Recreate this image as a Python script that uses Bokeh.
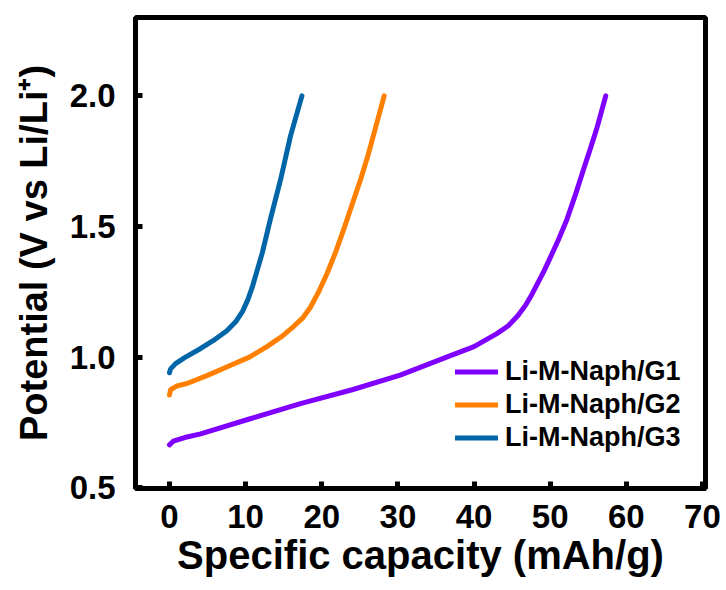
from bokeh.plotting import figure
from bokeh.models import FixedTicker, Legend, LegendItem
from bokeh.embed import file_html
from bokeh.resources import INLINE

# Data
g1_cap = [0.0, 0.5, 2.0, 4.1, 10.6, 17.2, 24.0, 30.3, 36.4, 40.0, 43.0, 44.5, 45.8, 46.8, 47.6,
          48.4, 49.2, 50.0, 51.1, 52.2, 53.3, 54.4, 55.3, 56.1, 57.3]
g1_pot = [0.664, 0.678, 0.692, 0.706, 0.764, 0.822, 0.875, 0.931, 1.0, 1.04, 1.09, 1.12, 1.16, 1.2, 1.24,
          1.285, 1.33, 1.38, 1.45, 1.527, 1.62, 1.72, 1.80, 1.873, 2.0]

g2_cap = [0.0, 0.15, 1.0, 2.3, 5.0, 7.6, 10.5, 12.8, 14.8, 16.3, 17.5, 18.5, 19.6, 20.7, 21.8,
          22.9, 24.0, 25.1, 26.0, 26.8, 28.2]
g2_pot = [0.855, 0.875, 0.89, 0.899, 0.93, 0.963, 1.0, 1.04, 1.08, 1.117, 1.15, 1.19, 1.25, 1.32, 1.40,
          1.49, 1.585, 1.68, 1.765, 1.85, 2.0]

g3_cap = [0.0, 0.15, 0.8, 2.0, 4.1, 6.0, 7.5, 8.7, 9.6, 10.3, 10.9, 11.5, 12.2, 13.25, 14.6, 15.9, 17.4]
g3_pot = [0.94, 0.955, 0.975, 0.998, 1.033, 1.068, 1.10, 1.135, 1.175, 1.22, 1.27, 1.33, 1.40, 1.527,
          1.68, 1.847, 2.0]

series_names = ["Li-M-Naph/G1", "Li-M-Naph/G2", "Li-M-Naph/G3"]
colors = ["#8000FF", "#FF8000", "#0066A8"]

x_ticks = [0, 10, 20, 30, 40, 50, 60, 70]
y_ticks = [0.5, 1.0, 1.5, 2.0]

FONT = "Liberation Sans"

p = figure(width=726, height=590, output_backend="svg", toolbar_location=None,
           x_range=(-4.46, 70.4), y_range=(0.497, 2.3),
           min_border_left=135, min_border_right=21, min_border_top=17, min_border_bottom=102)

p.xgrid.visible = False
p.ygrid.visible = False
p.outline_line_color = "black"
p.outline_line_width = 5
p.background_fill_color = "white"
p.border_fill_color = "white"

renderers = []
for xs, ys, c in zip([g1_cap, g2_cap, g3_cap], [g1_pot, g2_pot, g3_pot], colors):
    r = p.line(xs, ys, line_color=c, line_width=5, line_cap="round", line_join="round")
    renderers.append(r)

for ax in (p.xaxis[0], p.yaxis[0]):
    ax.axis_line_width = 5
    ax.axis_line_color = "black"
    ax.major_tick_in = 7
    ax.major_tick_out = 0
    ax.major_tick_line_width = 5
    ax.minor_tick_in = 0
    ax.minor_tick_out = 0
    ax.major_label_text_font = FONT
    ax.major_label_text_font_style = "bold"
    ax.major_label_text_font_size = "33px"
    ax.major_label_text_color = "black"
    ax.axis_label_text_font = FONT
    ax.axis_label_text_font_style = "bold"
    ax.axis_label_text_color = "black"

p.xaxis.axis_label_text_font_size = "40px"
p.yaxis.axis_label_text_font_size = "38px"
p.xaxis.ticker = FixedTicker(ticks=x_ticks)
p.yaxis.ticker = FixedTicker(ticks=y_ticks)
p.xaxis.major_label_overrides = {t: str(t) for t in x_ticks}
p.yaxis.major_label_overrides = {t: f"{t:.1f}" for t in y_ticks}
p.xaxis.major_label_standoff = 16
p.yaxis.major_label_standoff = 20
p.xaxis.axis_label = "Specific capacity (mAh/g)"
p.yaxis.axis_label = "Potential (V vs Li/Li\u207a)"
p.xaxis.axis_label_standoff = 2
p.yaxis.axis_label_standoff = 12

legend = Legend(items=[LegendItem(label=n, renderers=[r]) for n, r in zip(series_names, renderers)],
                location=(320, 34))
legend.border_line_color = None
legend.background_fill_alpha = 0
legend.padding = 0
legend.margin = 0
legend.spacing = 0
legend.glyph_width = 43
legend.glyph_height = 33
legend.label_height = 33
legend.label_standoff = 7
legend.label_text_font = FONT
legend.label_text_font_style = "bold"
legend.label_text_font_size = "27px"
legend.label_text_color = "black"
p.add_layout(legend, "center")

open("out.html", "w").write(file_html(p, INLINE))
